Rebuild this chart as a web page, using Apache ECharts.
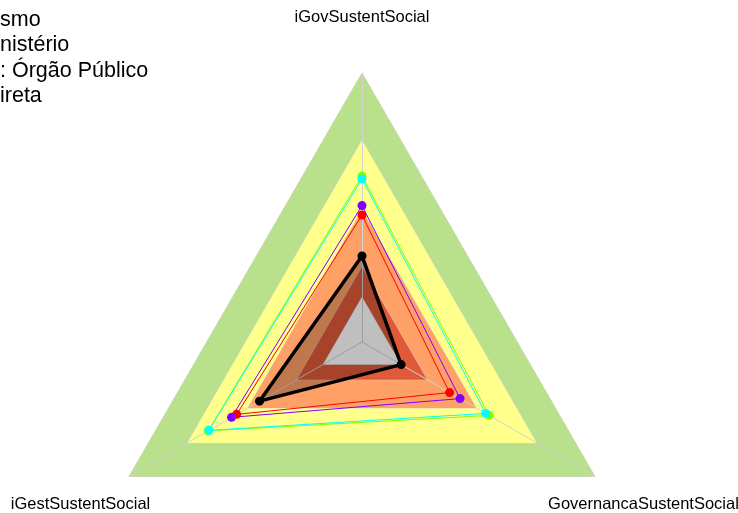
<!DOCTYPE html>
<html>
<head>
<meta charset="utf-8">
<script src="https://cdn.jsdelivr.net/npm/echarts@6/dist/echarts.min.js"></script>
<style>
  html, body { margin: 0; padding: 0; background: #fff; }
  #chart { width: 738px; height: 513px; }
</style>
</head>
<body>
<div id="chart"></div>
<script>
// axes, counter-clockwise from the top
const indicators = ["iGovSustentSocial", "iGestSustentSocial", "GovernancaSustentSocial"]
// background level polygons (outer to inner), same value on each axis
const bandLevels = [1, 0.75, 0.49, 0.28, 0.166]
const bandColors = ["#b9e08b", "#ffff8c", "#ffa066", "#e05a3a", "#ffffff"]
// series values (iGov, iGest, Governanca)
const greenVals = [0.617, 0.66, 0.546]
const cyanVals = [0.606, 0.657, 0.531]
const redVals = [0.472, 0.538, 0.376]
const purpleVals = [0.507, 0.56, 0.421]
const blackVals = [0.32, 0.44, 0.168]
const legendLines = ["smo", "nistério", ": Órgão Público", "ireta"]

const chart = echarts.init(document.getElementById("chart"))

const bandSeries = bandLevels.map((v, i) => ({
  type: "radar",
  z: 1,
  silent: true,
  symbol: "none",
  lineStyle: { color: "#d2d2d2", width: 1 },
  areaStyle: { color: bandColors[i], opacity: 1 },
  data: [{ value: indicators.map(() => v) }],
}))

function lineSeries(vals, color, width, size) {
  return {
    type: "radar",
    z: 3,
    symbol: "circle",
    symbolSize: size,
    itemStyle: { color: color },
    lineStyle: { color: color, width: width },
    data: [{ value: vals }],
  }
}

const option = {
  animation: false,
  textStyle: { fontFamily: "Liberation Sans, Arial, sans-serif" },
  title: {
    text: legendLines.join("\n"),
    left: 0,
    top: 7,
    padding: 0,
    textStyle: {
      fontSize: 21.5,
      fontWeight: "normal",
      color: "#000",
      lineHeight: 25.5,
      fontFamily: "Liberation Sans, Arial, sans-serif",
    },
  },
  radar: {
    z: 2,
    center: [362, 342],
    radius: 269,
    shape: "polygon",
    startAngle: 90,
    nameGap: 56,
    axisName: {
      color: "#000",
      fontSize: 16.5,
      align: "center",
      verticalAlign: "middle",
    },
    indicator: indicators.map((n) => ({ name: n, min: 0, max: 1 })),
    axisLine: { lineStyle: { color: "#d2d2d2", width: 1 } },
    splitLine: { show: false },
    splitArea: { show: false },
    axisTick: { show: false },
    axisLabel: { show: false },
  },
  series: [
    ...bandSeries,
    lineSeries(greenVals, "#80ff00", 1, 9),
    lineSeries(cyanVals, "#00ffff", 1, 9),
    lineSeries(redVals, "#ff0000", 1, 9),
    lineSeries(purpleVals, "#8000ff", 1, 9),
    {
      type: "radar",
      z: 4,
      symbol: "circle",
      symbolSize: 9,
      itemStyle: { color: "#000" },
      lineStyle: { color: "#000", width: 3.5 },
      areaStyle: { color: "#000", opacity: 0.25 },
      data: [{ value: blackVals }],
    },
  ],
}

chart.setOption(option)
</script>
</body>
</html>
